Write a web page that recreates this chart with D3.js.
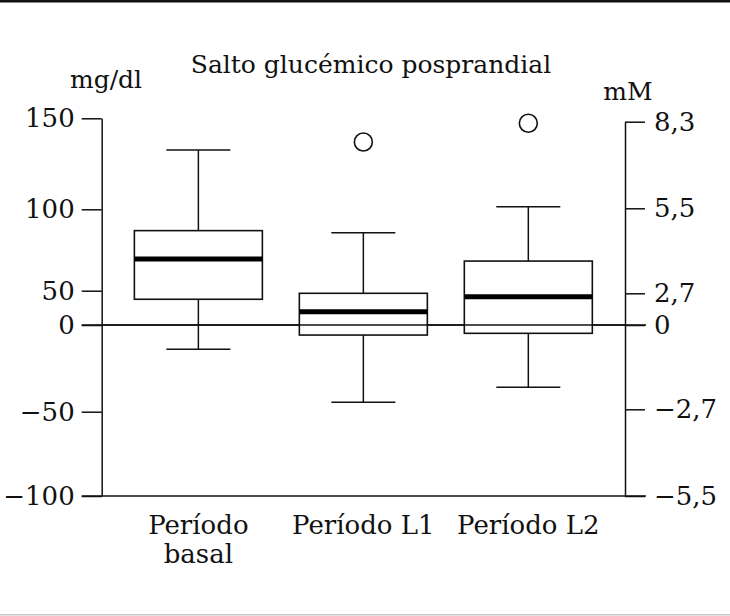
<!DOCTYPE html>
<html>
<head>
<meta charset="utf-8">
<script src="https://cdn.jsdelivr.net/npm/d3@7"></script>
<style>
  html, body { margin: 0; padding: 0; background: #fff; }
  svg { display: block; }
  text { font-family: 'DejaVu Serif', serif; fill: #111; }
</style>
</head>
<body>
<div id="chart"></div>
<script>
// Values (mg/dl)
const categories = ['Período\nbasal', 'Período L1', 'Período L2'];
const whiskerHigh = [132.6, 85.6, 101.4];
const q3 = [86.9, 46.2, 68.2];
const median = [69.5, 19.4, 41.3];
const q1 = [37.5, -5.8, -4.8];
const whiskerLow = [-14, -44.6, -35.9];
const outliers = [null, 137, 147.3];

// Tick values of both axes
const mgTicks = [-100, -50, 0, 50, 100, 150];
const mmTicks = [-5.5, -2.7, 0, 2.7, 5.5, 8.3];

// Canvas
const width = 730;
const height = 616;

const svg = d3.select('#chart')
  .append('svg')
  .attr('width', width)
  .attr('height', height);

// The printed axes are not evenly spaced, so use piecewise scales
// that put each tick where the original put it.
const leftX = 101.7;
const rightX = 625;
const yLeft = d3.scaleLinear().domain(mgTicks).range([496, 411.7, 325, 290.7, 209.3, 118.3]);
const yRight = d3.scaleLinear().domain(mmTicks).range([496, 409.3, 325, 293.3, 208.3, 121.7]);

const xScale = d3.scalePoint().domain(categories).range([leftX, rightX]).padding(0.586);
const boxW = 128;
const capW = 64;

const fmt = (d) => String(d).replace('.', ',').replace('-', '\u2212');

// frame lines at top and bottom of the figure
svg.append('rect').attr('x', 0).attr('y', 0).attr('width', width).attr('height', 2.5).attr('fill', '#111');
svg.append('rect').attr('x', 0).attr('y', 614).attr('width', width).attr('height', 1.5).attr('fill', '#c8c8c8');

// Axes
const tickLen = 20;
const leftAxis = d3.axisLeft(yLeft).tickValues(mgTicks).tickSize(tickLen).tickSizeOuter(0)
  .tickPadding(7).tickFormat(fmt);
const rightAxis = d3.axisRight(yRight).tickValues(mmTicks).tickSize(tickLen).tickSizeOuter(0)
  .tickPadding(9).tickFormat(fmt);

const styleAxis = (g) => {
  g.selectAll('path, line').attr('stroke', '#111').attr('stroke-width', 1.5);
  g.selectAll('text').attr('font-size', 26).attr('fill', '#111');
};

svg.append('g').attr('transform', `translate(${leftX},0)`).call(leftAxis).call(styleAxis);
svg.append('g').attr('transform', `translate(${rightX},0)`).call(rightAxis).call(styleAxis);

// baseline and zero line across the plot
[yLeft(-100), yLeft(0)].forEach((yy) => {
  svg.append('line')
    .attr('x1', leftX - tickLen).attr('x2', rightX + tickLen + 1)
    .attr('y1', yy).attr('y2', yy)
    .attr('stroke', '#111').attr('stroke-width', 1.5);
});

// Boxes
const data = categories.map((c, i) => ({
  c, hi: whiskerHigh[i], q3: q3[i], med: median[i], q1: q1[i], lo: whiskerLow[i], out: outliers[i],
}));

const box = svg.append('g').selectAll('g').data(data).enter().append('g');

box.append('line')
  .attr('x1', (d) => xScale(d.c)).attr('x2', (d) => xScale(d.c))
  .attr('y1', (d) => yLeft(d.hi)).attr('y2', (d) => yLeft(d.lo))
  .attr('stroke', '#111').attr('stroke-width', 1.5);

['hi', 'lo'].forEach((k) => {
  box.append('line')
    .attr('x1', (d) => xScale(d.c) - capW / 2).attr('x2', (d) => xScale(d.c) + capW / 2)
    .attr('y1', (d) => yLeft(d[k])).attr('y2', (d) => yLeft(d[k]))
    .attr('stroke', '#111').attr('stroke-width', 1.5);
});

box.append('rect')
  .attr('x', (d) => xScale(d.c) - boxW / 2)
  .attr('y', (d) => yLeft(d.q3))
  .attr('width', boxW)
  .attr('height', (d) => yLeft(d.q1) - yLeft(d.q3))
  .attr('fill', '#fff')
  .attr('stroke', '#111').attr('stroke-width', 1.6);

// zero line shows through the boxes
svg.append('line')
  .attr('x1', leftX).attr('x2', rightX)
  .attr('y1', yLeft(0)).attr('y2', yLeft(0))
  .attr('stroke', '#111').attr('stroke-width', 1.5);

box.append('line')
  .attr('x1', (d) => xScale(d.c) - boxW / 2).attr('x2', (d) => xScale(d.c) + boxW / 2)
  .attr('y1', (d) => yLeft(d.med)).attr('y2', (d) => yLeft(d.med))
  .attr('stroke', '#000').attr('stroke-width', 5);

box.filter((d) => d.out != null).append('circle')
  .attr('cx', (d) => xScale(d.c))
  .attr('cy', (d) => yLeft(d.out))
  .attr('r', 9)
  .attr('fill', 'none')
  .attr('stroke', '#111').attr('stroke-width', 1.6);

// Category labels
svg.append('g').selectAll('text').data(categories).enter()
  .append('text')
  .attr('text-anchor', 'middle')
  .attr('font-size', 26)
  .attr('x', (d) => xScale(d))
  .attr('y', 534)
  .each(function a(d) {
    d.split('\n').forEach((line, i) => {
      d3.select(this).append('tspan')
        .attr('x', xScale(d))
        .attr('dy', i === 0 ? 0 : 29)
        .text(line);
    });
  });

// Title and units
svg.append('text')
  .attr('x', 371).attr('y', 73)
  .attr('text-anchor', 'middle')
  .attr('font-size', 25)
  .text('Salto glucémico posprandial');

svg.append('text')
  .attr('x', 106).attr('y', 88)
  .attr('text-anchor', 'middle')
  .attr('font-size', 25)
  .text('mg/dl');

svg.append('text')
  .attr('x', 628).attr('y', 100)
  .attr('text-anchor', 'middle')
  .attr('font-size', 25)
  .text('mM');
</script>
</body>
</html>
